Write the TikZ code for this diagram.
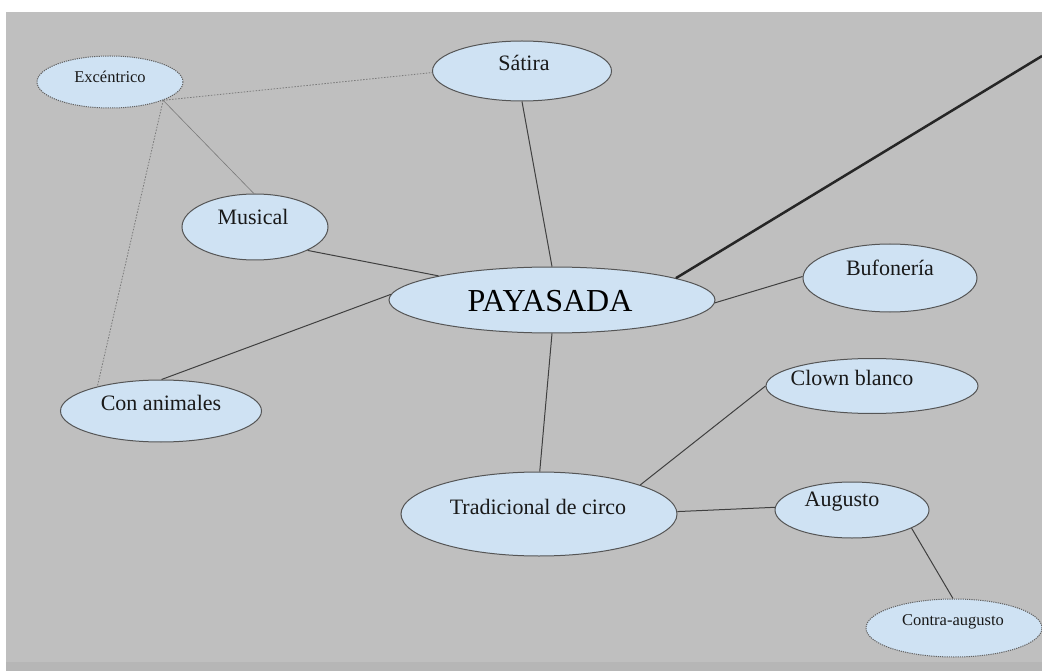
\documentclass[tikz,border=0pt]{standalone}
\usepackage{fontspec}
\setmainfont{Liberation Serif}
\usetikzlibrary{shapes.geometric}
\definecolor{bggray}{HTML}{BFBFBF}
\definecolor{bgdark}{HTML}{B6B6B6}
\definecolor{ellfill}{HTML}{CFE2F3}
\definecolor{ellborder}{HTML}{555555}
\definecolor{edgecol}{HTML}{404040}
\definecolor{dotcol}{HTML}{7A7A7A}
\tikzset{
  ell/.style={ellipse, draw=ellborder, fill=ellfill, line width=1pt, inner sep=0pt},
  elldot/.style={ell, draw=dotcol!80!black, dash pattern=on 1.2pt off 1pt},
  lbl/.style={inner sep=0pt, text=black!90, font=\fontsize{22}{26}\selectfont},
  lblsmall/.style={lbl, font=\fontsize{16.5}{20}\selectfont},
  lblbig/.style={lbl, text=black, font=\fontsize{32}{38}\selectfont},
  edge/.style={draw=edgecol, line width=1pt},
  dotedge/.style={draw=dotcol, line width=0.8pt, dash pattern=on 1.5pt off 1.5pt},
  thinedge/.style={draw=dotcol, line width=0.6pt},
  thickedge/.style={draw=black!85, line width=2.5pt}
}
\begin{document}
\begin{tikzpicture}[x=1pt,y=-1pt]
\useasboundingbox (0,0) rectangle (1042,671);
\fill[white] (0,0) rectangle (1042,671);
\fill[bggray] (6,12) rectangle (1042,662);
\fill[bgdark] (6,662) rectangle (1042,671);

% ellipses
\node[elldot, minimum width=146pt, minimum height=52pt] (exc) at (110,82) {};
\node[ell, minimum width=179pt, minimum height=60pt] (sat) at (522,71) {};
\node[ell, minimum width=146pt, minimum height=66pt] (mus) at (255,227) {};
\node[ell, minimum width=326pt, minimum height=66pt] (pay) at (552,300) {};
\node[ell, minimum width=174pt, minimum height=68pt] (buf) at (890,278) {};
\node[ell, minimum width=201pt, minimum height=62pt] (con) at (161,411) {};
\node[ell, minimum width=212pt, minimum height=55pt] (clo) at (872,386) {};
\node[ell, minimum width=276pt, minimum height=84pt] (tra) at (539,514) {};
\node[ell, minimum width=154pt, minimum height=56pt] (aug) at (852,510) {};
\node[elldot, minimum width=176pt, minimum height=58pt] (ctr) at (954,628) {};

% labels
\node[lblsmall] (exc-t) at (110,77) {Excéntrico};
\node[lbl] (sat-t) at (524,63) {Sátira};
\node[lbl] (mus-t) at (253,217) {Musical};
\node[lblbig] (pay-t) at (550,301) {PAYASADA};
\node[lbl] (buf-t) at (890,268) {Bufonería};
\node[lbl] (con-t) at (161,403) {Con animales};
\node[lbl] (clo-t) at (852,378) {Clown blanco};
\node[lbl] (tra-t) at (538,507) {Tradicional de circo};
\node[lbl] (aug-t) at (842,502) {Augusto};
\node[lblsmall] (ctr-t) at (953,622) {Contra-augusto};

\coordinate (offpage) at (1042,56);

% connectors
\draw[dotedge] (exc.-19) -- (sat.181);
\draw[thinedge] (exc.-19) -- (mus.92);
\draw[dotedge] (exc.-19) -- (con.159);
\draw[edge] (sat.-90) -- (pay.90);
\draw[edge] (mus.-24) -- (pay.168);
\draw[edge] (con.89) -- (pay.178);
\draw[edge] (pay.-1) -- (buf.179);
\draw[edge] (pay.-90) -- (tra.89);
\draw[thickedge] (pay.10.3) -- (offpage);
\draw[edge] (tra.16.5) -- (clo.180);
\draw[edge] (tra.1) -- (aug.178.5);
\draw[edge] (aug.-17.8) -- (ctr.92);
\end{tikzpicture}
\end{document}
